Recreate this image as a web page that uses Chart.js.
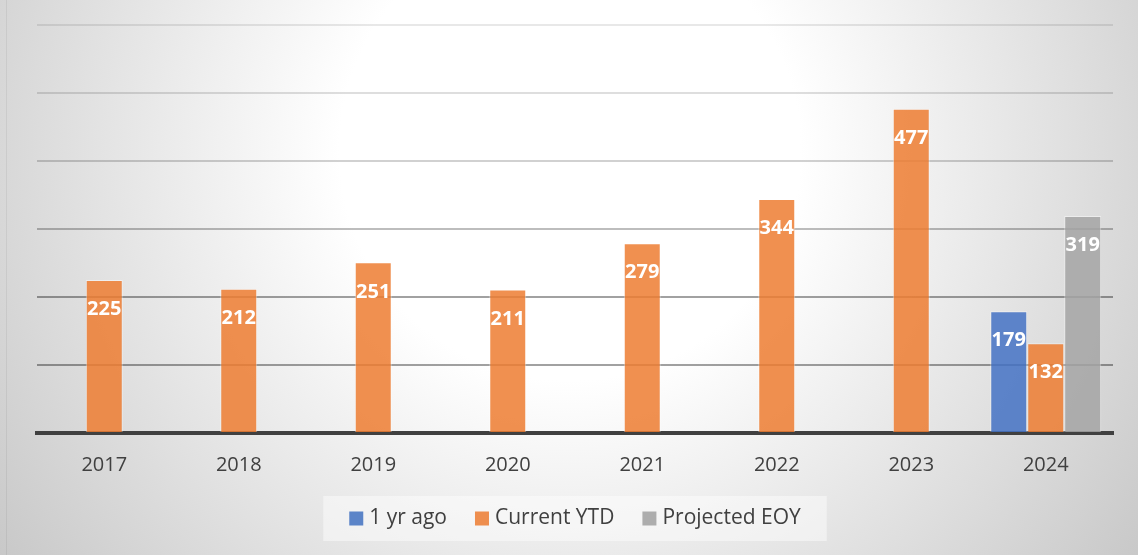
<!DOCTYPE html>
<html>
<head>
<meta charset="utf-8">
<script src="https://cdn.jsdelivr.net/npm/chart.js@4"></script>
<style>
  html, body { margin: 0; padding: 0; }
  #wrap { width: 1138px; height: 555px; position: relative; }
</style>
</head>
<body>
<div id="wrap"><canvas id="chart"></canvas></div>
<script>
// Yearly counts; 2024 shows last year's YTD, current YTD and projection.
const years        = ["2017", "2018", "2019", "2020", "2021", "2022", "2023", "2024"];
const oneYrAgo     = [null, null, null, null, null, null, null, 179];
const currentYtd   = [225, 212, 251, 211, 279, 344, 477, 132];
const projectedEoy = [null, null, null, null, null, null, null, 319];
const seriesNames  = ["1 yr ago", "Current YTD", "Projected EOY"];
const yMax = 600;
const yStep = 100;

const FONT = "'Open Sans', 'DejaVu Sans', sans-serif";
const TEXT = "#404040";

// gridlines fade out toward the top, like the original
const gridAlpha = { 100: 0.37, 200: 0.37, 300: 0.26, 400: 0.18, 500: 0.13, 600: 0.09 };

const bgPlugin = {
    id: "bg",
    beforeDraw(chart) {
        const { ctx, width, height } = chart;
        const g = ctx.createRadialGradient(570, 150, 0, 570, 150, 720);
        g.addColorStop(0, "#ffffff");
        g.addColorStop(0.32, "#ffffff");
        g.addColorStop(1, "#c6c6c6");
        ctx.save();
        ctx.fillStyle = g;
        ctx.fillRect(0, 0, width, height);
        ctx.fillStyle = "rgba(0,0,0,0.06)";
        ctx.fillRect(6, 0, 1, height);
        ctx.restore();
    },
};

const valueLabels = {
    id: "valueLabels",
    afterDatasetsDraw(chart) {
        const ctx = chart.ctx;
        ctx.save();
        ctx.font = "bold 20px " + FONT;
        ctx.fillStyle = "#ffffff";
        ctx.textAlign = "center";
        ctx.textBaseline = "middle";
        chart.data.datasets.forEach((ds, i) => {
            chart.getDatasetMeta(i).data.forEach((bar, j) => {
                const v = ds.data[j];
                if (v === null || v === undefined) return;
                ctx.fillText(String(v), bar.x, bar.y + 29.5);
            });
        });
        ctx.restore();
    },
};

// boxed legend below the axis
const boxLegend = {
    id: "boxLegend",
    afterDraw(chart) {
        const ctx = chart.ctx;
        const area = chart.chartArea;
        const sq = 14, gap = 6, sep = 28, padX = 26;
        ctx.save();
        ctx.font = "21px " + FONT;
        const items = chart.data.datasets.map((ds) => ({
            label: ds.label,
            color: ds.legendColor,
            w: ctx.measureText(ds.label).width,
        }));
        let total = 0;
        items.forEach((it, i) => { total += sq + gap + it.w + (i ? sep : 0); });
        const boxW = total + padX * 2;
        const cx = (area.left + area.right) / 2;
        const top = 496, h = 45;
        ctx.fillStyle = "rgba(255,255,255,0.45)";
        ctx.fillRect(cx - boxW / 2, top, boxW, h);
        let x = cx - total / 2;
        const cy = top + h / 2;
        ctx.textBaseline = "middle";
        ctx.textAlign = "left";
        items.forEach((it) => {
            ctx.fillStyle = it.color;
            ctx.fillRect(x, cy - 7, sq, sq);
            x += sq + gap;
            ctx.fillStyle = TEXT;
            ctx.fillText(it.label, x, cy);
            x += it.w + sep;
        });
        ctx.restore();
    },
};

const barStyle = {
    borderWidth: 1,
    borderColor: "rgba(255,255,255,0.45)",
    categoryPercentage: 0.825,
    barPercentage: 1,
};

new Chart(document.getElementById("chart"), {
    type: "bar",
    data: {
        labels: years,
        datasets: [
            { label: seriesNames[0], data: oneYrAgo, backgroundColor: "rgba(68,114,196,0.85)", legendColor: "#5b84c8", ...barStyle },
            { label: seriesNames[1], data: currentYtd, backgroundColor: "rgba(237,125,49,0.85)", legendColor: "#ee8e4e", ...barStyle },
            { label: seriesNames[2], data: projectedEoy, backgroundColor: "rgba(165,165,165,0.85)", legendColor: "#adadad", ...barStyle },
        ],
    },
    options: {
        responsive: true,
        maintainAspectRatio: false,
        animation: false,
        layout: { padding: { left: 37, right: 25, top: 25, bottom: 59 } },
        plugins: {
            legend: { display: false },
            tooltip: { enabled: false },
        },
        scales: {
            x: {
                z: 1,
                grid: { display: false, drawTicks: false },
                border: { display: true, color: "#404040", width: 4 },
                ticks: { color: TEXT, font: { family: FONT, size: 20 }, padding: 20 },
                afterFit(scale) { scale.height = 63; },
            },
            y: {
                min: 0,
                max: yMax,
                ticks: { display: false, stepSize: yStep },
                border: { display: false },
                grid: {
                    drawTicks: false,
                    lineWidth: 2,
                    color: (c) => "rgba(0,0,0," + (gridAlpha[c.tick.value] || 0) + ")",
                },
            },
        },
    },
    plugins: [bgPlugin, valueLabels, boxLegend],
});
</script>
</body>
</html>
